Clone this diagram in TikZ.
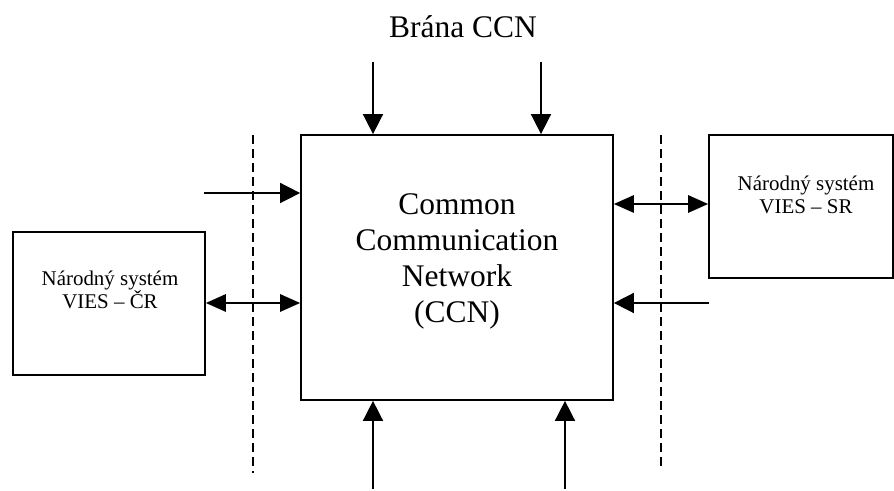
\documentclass[tikz,border=0pt]{standalone}
\usepackage{fontspec}
\setmainfont{Liberation Serif}
\usetikzlibrary{arrows.meta}

\begin{document}
\begin{tikzpicture}[x=0.75pt,y=-0.75pt,
  box/.style={draw, line width=1.3pt, inner sep=0pt},
  bigtext/.style={align=center, inner sep=0pt, font=\fontsize{23.6pt}{27pt}\selectfont},
  smalltext/.style={align=center, inner sep=0pt, font=\fontsize{15.7pt}{17.7pt}\selectfont},
  flow/.style={line width=1.2pt, -{Triangle[length=15pt,width=15pt]}},
  twoway/.style={line width=1.4pt, {Triangle[length=15pt,width=13pt]}-{Triangle[length=15pt,width=13pt]}},
  border/.style={line width=1.1pt, dash pattern=on 6.75pt off 3.75pt}]
\useasboundingbox (0,0) rectangle (894,491);
% boxes
\path (457,267.5) node (CCN) [box, minimum width=234pt, minimum height=198.75pt] {};
\path (109,303.5) node (CR) [box, minimum width=144pt, minimum height=107.25pt] {};
\path (801,206.5) node (SR) [box, minimum width=138pt, minimum height=107.25pt] {};
% texts
\path (457,261) node (CCNtext) [bigtext] {Common\\Communication\\Network\\(CCN)};
\path (463,38) node (gate) [bigtext, anchor=base] {Brána CCN};
\path (110,290) node (CRtext) [smalltext] {Národný systém\\VIES – ČR};
\path (806,195) node (SRtext) [smalltext] {Národný systém\\VIES – SR};
% free ends
\coordinate (top1) at (373,62);
\coordinate (top2) at (541,62);
\coordinate (bot1) at (373,489);
\coordinate (bot2) at (565,489);
\coordinate (left1) at (204,193);
\coordinate (left2) at (205,303);
\coordinate (right1) at (709,303);
\coordinate (right2) at (709,204);
\coordinate (dashL1) at (253,135);
\coordinate (dashL2) at (253,473);
\coordinate (dashR1) at (661,135);
\coordinate (dashR2) at (661,467);
% arrows
\draw[flow] (top1) -- (top1 |- CCN.north);
\draw[flow] (top2) -- (top2 |- CCN.north);
\draw[flow] (bot1) -- (bot1 |- CCN.south);
\draw[flow] (bot2) -- (bot2 |- CCN.south);
\draw[flow] (left1) -- (left1 -| CCN.west);
\draw[flow] (right1) -- (right1 -| CCN.east);
\draw[twoway] (left2 -| CR.east) -- (left2 -| CCN.west);
\draw[twoway] (right2 -| SR.west) -- (right2 -| CCN.east);
% borders
\draw[border] (dashL1) -- (dashL2);
\draw[border] (dashR1) -- (dashR2);
\end{tikzpicture}
\end{document}
